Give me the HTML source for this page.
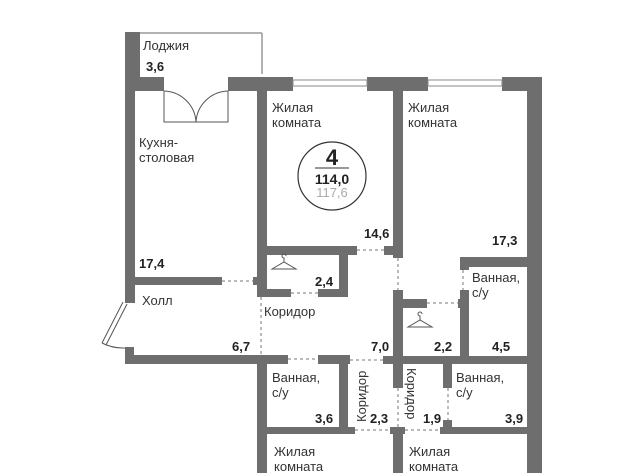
<!DOCTYPE html>
<html><head><meta charset="utf-8"><style>
html,body{margin:0;padding:0;background:#fff;}
svg{display:block}
text{font-family:"Liberation Sans","DejaVu Sans",sans-serif;fill:#333;}
.l{font-size:13px;}
.b{font-size:13px;font-weight:bold;fill:#222;}
</style></head><body>
<svg width="640" height="473" viewBox="0 0 640 473" xmlns="http://www.w3.org/2000/svg">
<g fill="#6e6e6e">
<rect x="125" y="32" width="15" height="59"/>
<rect x="125" y="77" width="39" height="14"/>
<rect x="228" y="77" width="65" height="14"/>
<rect x="367" y="77" width="61" height="14"/>
<rect x="502" y="77" width="40" height="14"/>
<rect x="125" y="77" width="10" height="226"/>
<rect x="125" y="347" width="9" height="17"/>
<rect x="527" y="77" width="15" height="396"/>
<rect x="125" y="277" width="97" height="8"/>
<rect x="253" y="277" width="10" height="8"/>
<rect x="257" y="77" width="10" height="220"/>
<rect x="393" y="77" width="10" height="181"/>
<rect x="257" y="246" width="100" height="9"/>
<rect x="384" y="246" width="19" height="9"/>
<rect x="339" y="246" width="9" height="51"/>
<rect x="257" y="289" width="34" height="8"/>
<rect x="318" y="289" width="30" height="8"/>
<rect x="125" y="355" width="163" height="9"/>
<rect x="318" y="355" width="32" height="9"/>
<rect x="393" y="290" width="10" height="98"/>
<rect x="393" y="299" width="34" height="9"/>
<rect x="458" y="299" width="11" height="9"/>
<rect x="460" y="290" width="9" height="74"/>
<rect x="460" y="257" width="67" height="10"/>
<rect x="460" y="257" width="9" height="13"/>
<rect x="383" y="356" width="144" height="8"/>
<rect x="257" y="355" width="10" height="118"/>
<rect x="339" y="355" width="9" height="78"/>
<rect x="257" y="427" width="98" height="7"/>
<rect x="390" y="427" width="15" height="7"/>
<rect x="393" y="427" width="10" height="46"/>
<rect x="440" y="427" width="87" height="7"/>
<rect x="443" y="356" width="9" height="32"/>
<rect x="443" y="420" width="9" height="14"/>
</g>
<rect x="293" y="80" width="74" height="6" fill="#fff" stroke="#888" stroke-width="1"/>
<rect x="428" y="80" width="74" height="6" fill="#fff" stroke="#888" stroke-width="1"/>
<g stroke="#999" stroke-width="1.5" fill="none">
<line x1="140" y1="33" x2="262" y2="33"/>
<line x1="262" y1="33" x2="262" y2="74"/>
</g>
<g stroke="#555" stroke-width="1" fill="none">
<path d="M164 91 V122 H196"/>
<path d="M164 91 A33 33 0 0 1 196 122"/>
<path d="M228 91 V122 H196"/>
<path d="M228 91 A33 33 0 0 0 196 122"/>
<line x1="123" y1="302" x2="102" y2="343"/>
<line x1="127" y1="304" x2="106" y2="345"/>
<path d="M102 343 A46 46 0 0 0 125 348"/>
</g>
<g stroke="#777" stroke-width="1" stroke-dasharray="3,3" fill="none">
<line x1="222" y1="281" x2="253" y2="281"/>
<line x1="357" y1="250" x2="384" y2="250"/>
<line x1="291" y1="293" x2="318" y2="293"/>
<line x1="261" y1="297" x2="261" y2="355"/>
<line x1="288" y1="359" x2="318" y2="359"/>
<line x1="350" y1="360" x2="383" y2="360"/>
<line x1="398" y1="258" x2="398" y2="290"/>
<line x1="427" y1="303" x2="458" y2="303"/>
<line x1="463" y1="270" x2="463" y2="290"/>
<line x1="355" y1="430" x2="390" y2="430"/>
<line x1="405" y1="430" x2="440" y2="430"/>
<line x1="448" y1="388" x2="448" y2="420"/>
<line x1="398" y1="388" x2="398" y2="427"/>
</g>
<g stroke="#555" stroke-width="1" fill="none">
<path d="M272 269 L284 262 L296 269 Z M284 262 V258 a2 2 0 1 1 2 -2"/>
<path d="M408 327 L420 320 L432 327 Z M420 320 V316 a2 2 0 1 1 2 -2"/>
</g>
<circle cx="332" cy="176" r="34" fill="none" stroke="#333" stroke-width="1.2"/>
<text x="332" y="165" text-anchor="middle" style="font-size:22px;font-weight:bold;fill:#222">4</text>
<line x1="315" y1="168" x2="349" y2="168" stroke="#333" stroke-width="1"/>
<text x="332" y="184" text-anchor="middle" class="b" style="font-size:14px">114,0</text>
<text x="332" y="197" text-anchor="middle" style="font-size:13px;fill:#aaa">117,6</text>
<text x="143" y="50" class="l">Лоджия</text>
<text x="146" y="71" class="b">3,6</text>
<text x="139" y="147" class="l">Кухня-</text>
<text x="139" y="162" class="l">столовая</text>
<text x="139" y="268" class="b">17,4</text>
<text x="272" y="112" class="l">Жилая</text>
<text x="272" y="127" class="l">комната</text>
<text x="364" y="238" class="b">14,6</text>
<text x="408" y="112" class="l">Жилая</text>
<text x="408" y="127" class="l">комната</text>
<text x="492" y="245" class="b">17,3</text>
<text x="142" y="305" class="l">Холл</text>
<text x="232" y="351" class="b">6,7</text>
<text x="315" y="286" class="b">2,4</text>
<text x="264" y="316" class="l">Коридор</text>
<text x="371" y="351" class="b">7,0</text>
<text x="434" y="351" class="b">2,2</text>
<text x="472" y="282" class="l">Ванная,</text>
<text x="472" y="297" class="l">с/у</text>
<text x="492" y="351" class="b">4,5</text>
<text x="272" y="382" class="l">Ванная,</text>
<text x="272" y="397" class="l">с/у</text>
<text x="315" y="423" class="b">3,6</text>
<text transform="translate(366,422) rotate(-90)" class="l">Коридор</text>
<text x="370" y="423" class="b">2,3</text>
<text transform="translate(407,368) rotate(90)" class="l">Коридор</text>
<text x="423" y="423" class="b">1,9</text>
<text x="456" y="382" class="l">Ванная,</text>
<text x="456" y="397" class="l">с/у</text>
<text x="505" y="423" class="b">3,9</text>
<text x="274" y="456" class="l">Жилая</text>
<text x="274" y="471" class="l">комната</text>
<text x="409" y="456" class="l">Жилая</text>
<text x="409" y="471" class="l">комната</text>
</svg>
</body></html>
